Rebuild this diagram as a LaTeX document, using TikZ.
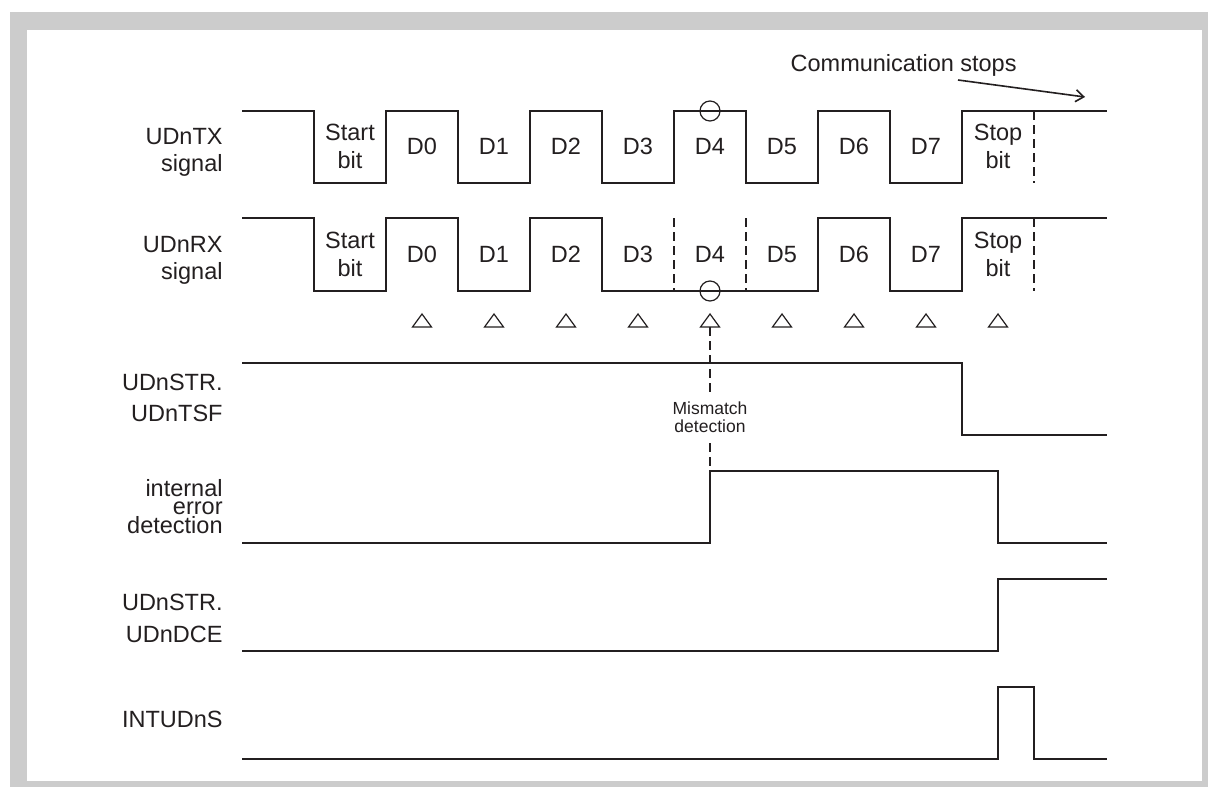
\documentclass[tikz,border=0pt]{standalone}
\usepackage{fontspec}
\setmainfont{Liberation Sans}
\usetikzlibrary{arrows.meta}
\definecolor{ink}{HTML}{231F20}
\definecolor{frame}{HTML}{CCCCCC}
\begin{document}
\begin{tikzpicture}[x=0.5pt,y=-0.5pt,
  sig/.style={draw=ink, line width=1pt, line join=miter},
  dsh/.style={draw=ink, line width=0.8pt, dash pattern=on 4.5pt off 2.5pt},
  thin/.style={draw=ink, line width=0.6pt},
  lbl/.style={anchor=base east, inner sep=0pt, text=ink, font=\fontsize{11.75}{14}\selectfont},
  bitlbl/.style={anchor=base, inner sep=0pt, text=ink, font=\fontsize{11.75}{14}\selectfont},
  small/.style={anchor=base, inner sep=0pt, text=ink, font=\fontsize{8.75}{10}\selectfont}]
% frame
\useasboundingbox (0,0) rectangle (1208,787);
\fill[frame] (10,12) rectangle (1208,787);
\fill[white] (27,30) rectangle (1202,781);

% signal labels
\node[lbl] (txa) at (223,144) {UDnTX};
\node[lbl] (txb) at (223,171) {signal};
\node[lbl] (rxa) at (223,252) {UDnRX};
\node[lbl] (rxb) at (223,279) {signal};
\node[lbl] (tsfa) at (223,390) {UDnSTR.};
\node[lbl] (tsfb) at (223,421) {UDnTSF};
\node[lbl] (iea) at (223,496) {internal};
\node[lbl] (ieb) at (223,514.5) {error};
\node[lbl] (iec) at (223,533) {detection};
\node[lbl] (dcea) at (223,610) {UDnSTR.};
\node[lbl] (dceb) at (223,642) {UDnDCE};
\node[lbl] (intl) at (223,727) {INTUDnS};

% UDnTX waveform
\draw[sig] (242,111) -| (314,183) -| (386,111) -| (458,183) -| (530,111) -| (602,183)
  -| (674,111) -| (746,183) -| (818,111) -| (890,183) -| (962,111) -- (1107,111);
\draw[dsh] (1034,111) -- (1034,183);
\draw[thin] (710,111) circle[radius=10];

% UDnRX waveform
\draw[sig] (242,218) -| (314,291) -| (386,218) -| (458,291) -| (530,218) -| (602,291)
  -| (818,218) -| (890,291) -| (962,218) -- (1107,218);
\draw[dsh] (674,218) -- (674,291);
\draw[dsh] (746,218) -- (746,291);
\draw[dsh] (1034,218) -- (1034,291);
\draw[thin] (710,291) circle[radius=10];

% bit labels
\foreach \yb/\nm in {0/tx,108/rx}{
  \node[bitlbl] (\nm sa) at (350,140+\yb) {Start};
  \node[bitlbl] (\nm sb) at (350,168+\yb) {bit};
  \foreach \i in {0,...,7}{
    \node[bitlbl] (\nm d\i) at (422+72*\i,154.5+\yb) {D\i};
  }
  \node[bitlbl] (\nm pa) at (998,140+\yb) {Stop};
  \node[bitlbl] (\nm pb) at (998,168+\yb) {bit};
}

% sampling triangles
\foreach \i in {1,...,9}{
  \draw[thin, line join=miter] (350+72*\i,314) -- (359.5+72*\i,327) -- (340.5+72*\i,327) -- cycle;
  \coordinate (s\i) at (350+72*\i,327);
}

% Communication stops
\node[anchor=base east, inner sep=0pt, text=ink, font=\fontsize{11.75}{14}\selectfont] (cs) at (1017,71) {Communication stops};
\coordinate (csa) at (958,80);
\coordinate (csb) at (1085,97);
\draw[thin, line width=0.8pt, -{Straight Barb[length=4pt,width=6pt]}] (csa) -- (csb);

% UDnSTR.UDnTSF
\draw[sig] (242,363) -| (962,435) -- (1107,435);

% internal error detection
\coordinate (ierise) at (710,471);
\draw[sig] (242,543) -| (ierise) -| (998,543) -- (1107,543);

% UDnSTR.UDnDCE
\draw[sig] (242,651) -| (998,579) -- (1107,579);

% INTUDnS
\draw[sig] (242,759) -| (998,687) -| (1034,759) -- (1107,759);

% mismatch detection
\node[small] (mm1) at (710,414) {Mismatch};
\node[small] (mm2) at (710,432) {detection};
\draw[dsh] (s5) -- (mm1.north |- 0,392);
\draw[dsh] (mm2.south |- 0,443) -- (ierise);
\end{tikzpicture}
\end{document}
